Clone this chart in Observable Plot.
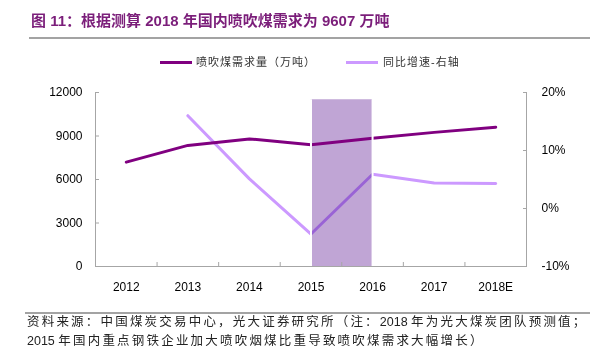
<!DOCTYPE html>
<html><head><meta charset="utf-8">
<script src="https://cdn.jsdelivr.net/npm/d3@7"></script>
<script src="https://cdn.jsdelivr.net/npm/@observablehq/plot@0.6"></script>
<style>
body{margin:0;background:#fff;}
#wrap{position:relative;width:600px;height:353px;overflow:hidden;background:#fff;font-family:"Liberation Sans","Noto Sans CJK SC",sans-serif;}
#wrap svg{position:absolute;left:0;top:0;}
.title{position:absolute;left:31px;top:11px;font-size:15px;font-weight:bold;color:#7b1e7a;white-space:nowrap;line-height:20px;}
.hr{position:absolute;background:#a3a3a3;}
.leg{position:absolute;top:55px;font-size:11px;line-height:14px;color:#333;letter-spacing:1px;white-space:nowrap;}
.sw{position:absolute;height:3px;top:61px;}
.foot{position:absolute;left:27px;top:312.5px;font-size:12.5px;line-height:19.5px;color:#222;letter-spacing:2.2px;white-space:nowrap;}
.foot span.n{letter-spacing:0;}
</style>
</head><body>
<div id="wrap">
  <div class="title">图 11：根据测算 2018 年国内喷吹煤需求为 9607 万吨</div>
  <div class="hr" style="left:29px;width:561px;top:36.5px;height:2px;"></div>
  <div class="sw" style="left:160px;width:32px;background:#800080;"></div>
  <div class="leg" style="left:196px;">喷吹煤需求量（万吨）</div>
  <div class="sw" style="left:346px;width:32px;background:#cc99ff;"></div>
  <div class="leg" style="left:383px;">同比增速-右轴</div>
  <div class="hr" style="left:25px;width:565px;top:312px;height:1.5px;"></div>
  <div class="foot">资料来源：中国煤炭交易中心，光大证券研究所（注：<span class="n">2018 </span>年为光大煤炭团队预测值；<br><span class="n">2015 </span>年国内重点钢铁企业加大喷吹烟煤比重导致喷吹煤需求大幅增长）</div>
</div>
<script>
const years = ["2012","2013","2014","2015","2016","2017","2018E"];
const demand = [7200, 8350, 8800, 8400, 8850, 9250, 9607];
const growth = [null, 16.0, 5.1, -4.4, 5.9, 4.4, 4.3];
const leftTicks = [0, 3000, 6000, 9000, 12000];
const rightTicks = [-10, 0, 10, 20];
const highlight = {from: "2015", to: "2016", top: 11500};

// right axis (%) mapped onto the left scale: -10% -> 0, 20% -> 12000
const toLeft = g => (g + 10) * 400;

const rows = years.map((y, i) => ({i, year: y, demand: demand[i], growth: growth[i]}));
const growthRows = rows.filter(d => d.growth != null);
const hl = [{x1: years.indexOf(highlight.from), x2: years.indexOf(highlight.to), top: highlight.top}];
const idx = years.map((_, i) => i);
const bounds = idx.slice(0, -1).map(i => i + 0.5);

const axisColor = "#a6a6a6";
const chart = Plot.plot({
  width: 600, height: 353,
  marginLeft: 95, marginRight: 74, marginTop: 92, marginBottom: 87,
  style: {fontFamily: '"Liberation Sans","Noto Sans CJK SC",sans-serif', fontSize: "12px", color: "#000", background: "transparent"},
  x: {type: "linear", domain: [-0.5, years.length - 0.5]},
  y: {domain: [0, 12000]},
  marks: [
    Plot.rect(hl, {x1: "x1", x2: "x2", y1: 0, y2: "top", fill: "#c0a5d5"}),
    Plot.ruleX([-0.5, years.length - 0.5], {stroke: axisColor, strokeWidth: 1}),
    Plot.ruleY([0], {stroke: axisColor, strokeWidth: 1}),
    Plot.line(growthRows, {x: "i", y: d => toLeft(d.growth), stroke: "#cc99ff", strokeWidth: 3, mixBlendMode: "multiply"}),
    Plot.line(rows, {x: "i", y: "demand", stroke: "#800080", strokeWidth: 3}),
    Plot.ruleX(hl.flatMap(d => [d.x1, d.x2]), {y1: 0, y2: hl[0].top, stroke: "#fff", strokeWidth: 2}),
    Plot.axisY({anchor: "left", ticks: leftTicks, tickSize: 0, tickPadding: 13, tickFormat: d => String(d), label: null}),
    Plot.axisY({anchor: "left", ticks: leftTicks, tickSize: -4, tickFormat: () => "", stroke: axisColor, label: null}),
    Plot.axisY({anchor: "right", ticks: rightTicks.map(toLeft), tickSize: 0, tickPadding: 15, tickFormat: d => Math.round(d / 400 - 10) + "%", label: null}),
    Plot.axisY({anchor: "right", ticks: rightTicks.map(toLeft), tickSize: -4, tickFormat: () => "", stroke: axisColor, label: null}),
    Plot.axisX({ticks: idx, tickSize: 0, tickPadding: 16, tickFormat: i => years[i], label: null}),
    Plot.axisX({ticks: bounds, tickSize: -4, tickFormat: () => "", stroke: axisColor, label: null})
  ]
});
document.getElementById("wrap").prepend(chart);
</script>
</body></html>
